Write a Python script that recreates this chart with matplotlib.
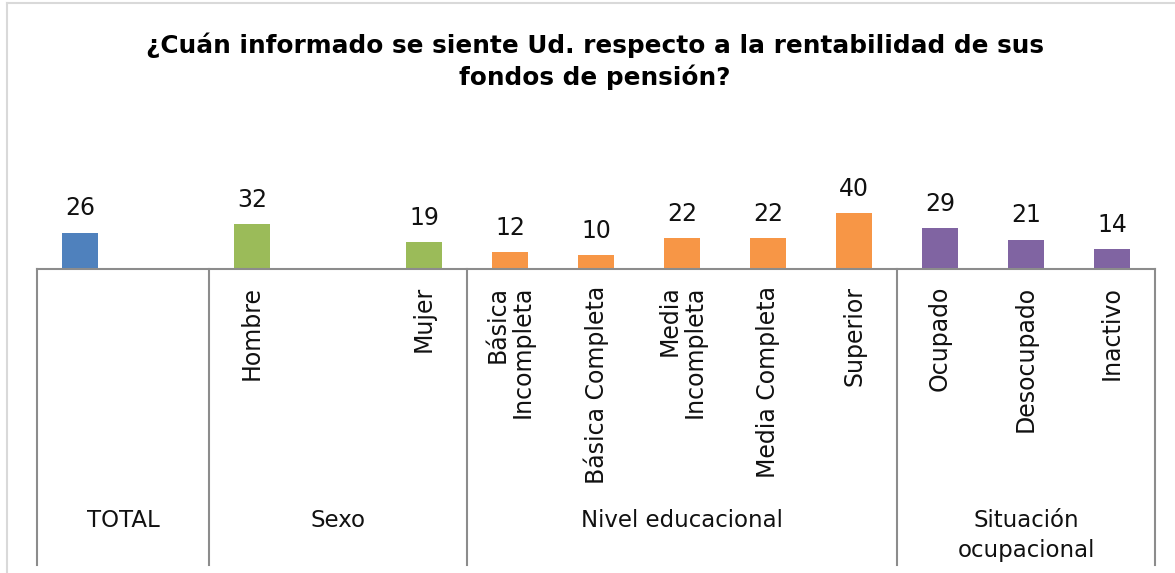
import numpy as np
import matplotlib.pyplot as plt
from matplotlib.transforms import blended_transform_factory
from matplotlib.lines import Line2D

# data (empty slots keep the original spacing)
categories = ['', '', 'Hombre', '', 'Mujer',
              'Básica\nIncompleta', 'Básica Completa', 'Media\nIncompleta',
              'Media Completa', 'Superior',
              'Ocupado', 'Desocupado', 'Inactivo']
values = [26, np.nan, 32, np.nan, 19, 12, 10, 22, 22, 40, 29, 21, 14]
groups = ['TOTAL', 'Sexo', 'Nivel educacional', 'Situación\nocupacional']
group_sizes = [2, 3, 5, 3]
group_colors = ['#4F81BD', '#9BBB59', '#F79646', '#8064A2']

title = '¿Cuán informado se siente Ud. respecto a la rentabilidad de sus\nfondos de pensión?'

plt.rcParams['font.family'] = ['DejaVu Sans']

fig = plt.figure(figsize=(11.75, 5.73), dpi=100)
ax = fig.add_axes([37 / 1175, 304 / 573, 1118 / 1175, 140 / 573])

x = np.arange(len(categories))
colors = np.repeat(group_colors, group_sizes)
ax.bar(x, values, width=0.41, color=colors)

for xi, v in zip(x, values):
    if np.isnan(v):
        continue
    ax.annotate(f'{v:.0f}', xy=(xi, v), xytext=(0, 9), textcoords='offset points',
                ha='center', va='bottom', fontsize=17, color='#111111')

ax.set_xlim(-0.5, len(categories) - 0.5)
ax.set_ylim(0, 100)
for s in ['top', 'left', 'right']:
    ax.spines[s].set_visible(False)
ax.spines['bottom'].set_color('#8c8c8c')
ax.spines['bottom'].set_linewidth(1.5)
ax.set_yticks([])
ax.set_xticks([])

tr = blended_transform_factory(ax.transData, ax.transAxes)

# rotated category labels
for xi, lab in zip(x, categories):
    if lab:
        ax.annotate(lab, xy=(xi, 0), xycoords=tr, xytext=(0, -12),
                    textcoords='offset points', rotation=90, ha='center', va='top',
                    multialignment='right', fontsize=17, color='#111111',
                    linespacing=1.05)

# group separators and group labels
edges = np.concatenate([[0], np.cumsum(group_sizes)]) - 0.5
depth = 296 / 140
for e in edges:
    ax.plot([e, e], [0, -depth], transform=tr, color='#8c8c8c', lw=1.5,
            clip_on=False)
for g, a, b in zip(groups, edges[:-1], edges[1:]):
    ax.annotate(g, xy=((a + b) / 2, 0), xycoords=tr, xytext=(0, -173),
                textcoords='offset points', ha='center', va='top',
                fontsize=16.5, color='#111111', linespacing=1.35)

fig.text(0.506, 1 - 61 / 573, title, ha='center', va='center', fontsize=17.8,
         fontweight='bold', linespacing=1.3)

# outer chart frame (left and top edges visible)
fig.add_artist(Line2D([7 / 1175, 7 / 1175], [0, 1 - 3 / 573],
                      transform=fig.transFigure, color='#d9d9d9', lw=1.5))
fig.add_artist(Line2D([7 / 1175, 1], [1 - 3 / 573, 1 - 3 / 573],
                      transform=fig.transFigure, color='#d9d9d9', lw=1.5))

fig.savefig('out.png', dpi=100)
